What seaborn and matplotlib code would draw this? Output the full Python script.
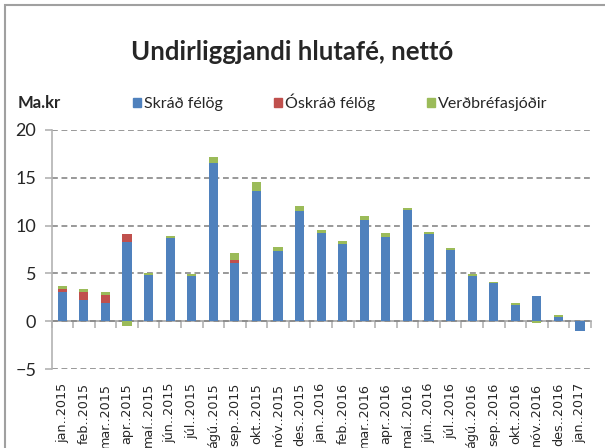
import numpy as np
import pandas as pd
import matplotlib.pyplot as plt
import matplotlib.patches as mpatches
import seaborn as sns

MONTHS = ['jan..2015', 'feb..2015', 'mar..2015', 'apr..2015', 'maí..2015', 'jún..2015',
          'júl..2015', 'ágú..2015', 'sep..2015', 'okt..2015', 'nóv..2015', 'des..2015',
          'jan..2016', 'feb..2016', 'mar..2016', 'apr..2016', 'maí..2016', 'jún..2016',
          'júl..2016', 'ágú..2016', 'sep..2016', 'okt..2016', 'nóv..2016', 'des..2016',
          'jan..2017']
SKRAD = [3.03, 2.26, 1.95, 8.33, 4.84, 8.75, 4.77, 16.60, 6.06, 13.66, 7.35, 11.57,
         9.23, 8.08, 10.59, 8.82, 11.67, 9.16, 7.46, 4.74, 3.97, 1.74, 2.61, 0.49, -0.98]
OSKRAD = [0.38, 0.84, 0.84, 0.80, 0, 0, 0, 0, 0.35, 0, 0, 0,
          0, 0, 0, 0, 0, 0, 0, 0, 0, 0, 0, 0, 0]
VERDBREF = [0.28, 0.24, 0.24, -0.45, 0.18, 0.20, 0.18, 0.54, 0.73, 0.94, 0.42, 0.52,
            0.32, 0.32, 0.46, 0.41, 0.21, 0.18, 0.21, 0.21, 0.14, 0.18, -0.14, 0.14, 0.0]
SERIES = ['Skráð félög', 'Óskráð félög', 'Verðbréfasjóðir']
COLORS = ['#4F81BD', '#C0504D', '#9BBB59']
YTICKS = [-5, 0, 5, 10, 15, 20]

sns.set_style('white')
plt.rcParams['font.family'] = ['Lato', 'DejaVu Sans']


def stacked_layers() -> pd.DataFrame:
    """Cumulative heights so that overlaid bars look stacked"""
    df = pd.DataFrame({'Month': MONTHS, 'Skrad': SKRAD, 'Oskrad': OSKRAD, 'Verdbref': VERDBREF})
    df['BlueTop'] = df['Skrad']
    df['RedTop'] = df['Skrad'] + df['Oskrad']
    df['GreenTop'] = np.where(df['Verdbref'] >= 0, df['RedTop'] + df['Verdbref'], df['Verdbref'])
    return df


df = stacked_layers()
fig = plt.figure(figsize=(6.05, 4.48), dpi=100)
ax = fig.add_axes([51.5 / 605, 1 - 369 / 448, 539.3 / 605, 239 / 448])

for col, color in zip(['GreenTop', 'RedTop', 'BlueTop'], COLORS[::-1]):
    sns.barplot(x=df['Month'], y=df[col], order=MONTHS, color=color, saturation=1,
                width=0.42, errorbar=None, linewidth=0, ax=ax)

ax.set_ylim(-5, 20)
ax.set_yticks(YTICKS)
ax.set_xlabel('')
ax.set_ylabel('')
ax.yaxis.grid(True, linestyle=(0, (3.5, 2.2)), color='#878787', linewidth=1.2)
ax.set_axisbelow(True)
for side in ['top', 'right', 'bottom']:
    ax.spines[side].set_visible(False)
ax.spines['left'].set_color('#b3b3b3')
ax.spines['left'].set_linewidth(1.2)
ax.tick_params(axis='y', left=True, length=5, width=1.2, color='#b3b3b3', pad=6, labelsize=13)
ax.tick_params(axis='x', length=0, pad=10)
ax.set_xticks(range(len(MONTHS)))
ax.set_xticklabels(MONTHS, rotation=90, va='top', ha='center',
                   fontfamily='DejaVu Sans', fontsize=9.2)

# category axis crossing at zero with tick marks between the bars
sec = ax.secondary_xaxis(0.2)
sec.set_xticks(np.arange(-0.5, len(MONTHS), 1))
sec.tick_params(axis='x', length=5, width=1.2, color='#b3b3b3', labelbottom=False)
sec.spines['bottom'].set_color('#a6a6a6')
sec.spines['bottom'].set_linewidth(1.2)

fig.text(292 / 605, 1 - 60 / 448, 'Undirliggjandi hlutafé, nettó', ha='center', va='baseline',
         fontsize=18.5, fontweight='bold')
fig.text(18 / 605, 1 - 108 / 448, 'Ma.kr', ha='left', va='baseline', fontsize=12, fontweight='bold')

handles = [mpatches.Patch(color=c, label=s) for c, s in zip(COLORS, SERIES)]
fig.legend(handles=handles, loc='center left', bbox_to_anchor=(133 / 605, 1 - 102 / 448),
           ncol=3, frameon=False, fontsize=11.5, handlelength=0.5, handleheight=0.5,
           handletextpad=0.2, columnspacing=3.2, borderpad=0, borderaxespad=0)

fig.patches.append(mpatches.Rectangle((5 / 605, -0.1), 1.2, 1.1 - 5 / 448, transform=fig.transFigure,
                                      fill=False, edgecolor='#a0a0a0', linewidth=1.5))

plt.savefig('out.png', dpi=100)
